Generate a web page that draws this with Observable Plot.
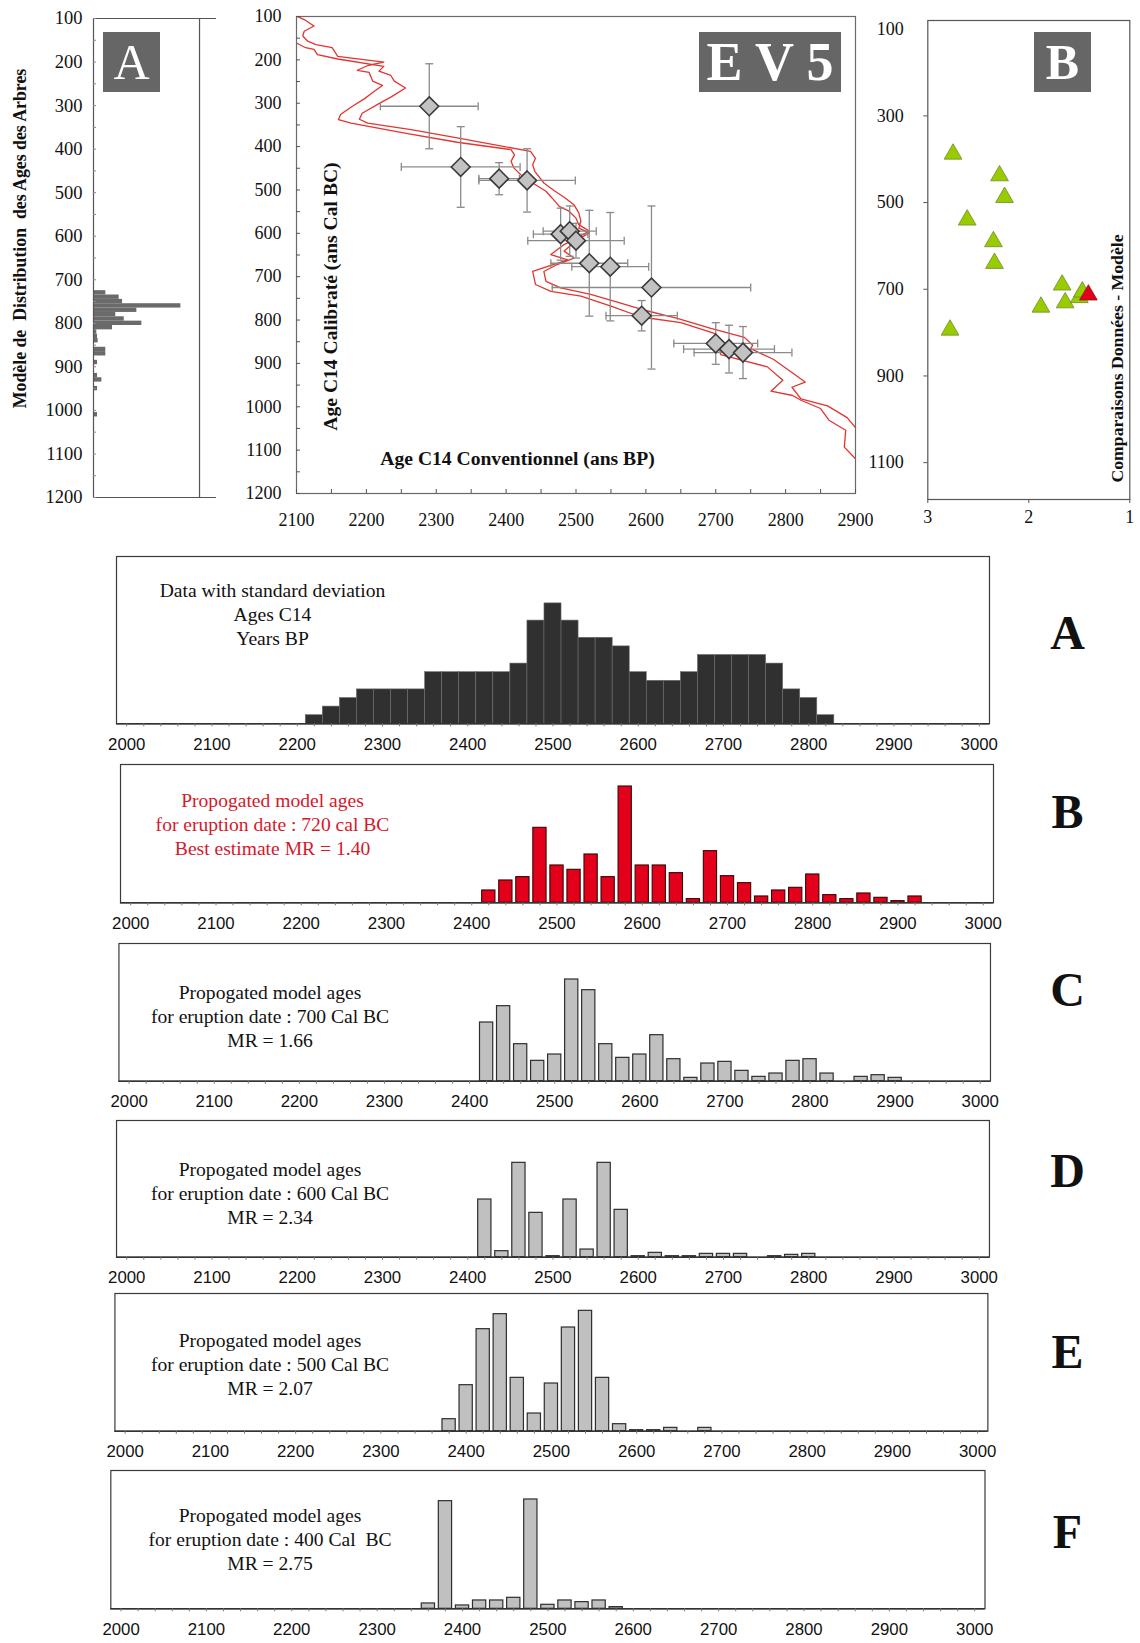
<!DOCTYPE html>
<html><head><meta charset="utf-8">
<script src="https://cdn.jsdelivr.net/npm/d3@7"></script>
<script src="https://cdn.jsdelivr.net/npm/@observablehq/plot@0.6"></script>
<style>
body{margin:0;background:#fff;}
#root{position:relative;width:1140px;height:1643px;overflow:hidden;font-family:"Liberation Serif",serif;background:#fff;}
.tag{position:absolute;background:#666;color:#fff;font-family:"Liberation Serif",serif;display:flex;align-items:center;justify-content:center;line-height:1;}
</style></head><body><div id="root"></div>
<script>
// ---------- DATA ----------
// Panel A (top-left): tree-age model distribution (cal BC bin start, bar length)
const treeBinStart = [725,735,745,755,765,775,785,795,805,815,825,835,855,865,885,915,925,945,1005];
const treeBinCount = [11.6,24.2,27.4,82.4,40.9,21,29,45.6,17.9,3.1,3.8,4.4,11.6,11.6,3.8,3.8,7.9,3.8,3.8];

// EV5: calibration curve (upper and lower bounds), BP vs cal BC
const calLeftBP  = [2100,2111,2125,2111,2109,2116,2128,2151,2159,2225,2202,2187,2204,2209,2223,2211,2197,2180,2163,2160,2178,2259,2330,2407,2412,2407,2411,2421,2438,2457,2466,2476,2490,2500,2504,2519,2483,2464,2488,2438,2442,2464,2507,2550,2593,2650,2698,2705,2707,2774,2796,2779,2810,2822,2850,2862,2886,2884,2900];
const calLeftCal = [99,107,122,134,145,157,165,172,192,205,213,224,229,249,259,273,290,307,326,338,346,370,390,407,419,434,449,465,484,503,519,538,549,565,580,595,626,649,661,688,718,734,745,768,793,806,831,862,880,908,939,964,974,985,1004,1031,1054,1093,1120];
const calRightBP  = [2100,2113,2125,2130,2159,2225,2218,2235,2240,2256,2235,2218,2194,2190,2202,2264,2330,2435,2442,2438,2441,2454,2469,2483,2497,2504,2507,2504,2519,2502,2483,2497,2473,2454,2457,2478,2521,2564,2600,2645,2693,2741,2753,2750,2783,2828,2809,2822,2860,2888,2900];
const calRightCal = [161,172,176,188,198,215,226,236,249,265,286,301,323,337,346,361,380,411,427,442,457,484,502,517,534,553,572,588,599,615,641,657,672,688,711,726,741,761,778,796,819,840,858,866,891,943,955,982,998,1025,1048];

// EV5: dated samples (C14 BP, cal BC) with errors
const sampleBP     = [2290,2335,2390,2430,2478,2491,2500,2519,2549,2608,2594,2700,2719,2739];
const sampleCal    = [307,447,474,478,602,595,617,669,677,725,790,854,867,875];
const sampleErrBP  = [70,85,29,69,39,38,69,55,55,142,51,60,65,70];
const sampleErrCal = [98,93,37,73,60,58,40,122,125,188,35,48,55,60];

// Panel B (top-right): data-model comparison (MR, eruption date cal BC)
const compMR    = [2.75,2.29,2.24,2.61,2.35,2.34,2.78,1.88,1.67,1.64,1.50,1.47];
const compDate  = [388,438,488,540,590,640,794,741,690,731,719,706];
const bestMR    = [1.41];
const bestDate  = [713];

// Histograms (bin centre in years BP, height)
const histA_x = [2220,2240,2260,2280,2300,2320,2340,2360,2380,2400,2420,2440,2460,2480,2500,2520,2540,2560,2580,2600,2620,2640,2660,2680,2700,2720,2740,2760,2780,2800,2820];
const histA_v = [1,2,3,4,4,4,4,6,6,6,6,6,7,12,14,12,10,10,9,6,5,5,6,8,8,8,8,7,4,3,1];
const histB_x = [2420,2440,2460,2480,2500,2520,2540,2560,2580,2600,2620,2640,2660,2680,2700,2720,2740,2760,2780,2800,2820,2840,2860,2880,2900,2920];
const histB_v = [37,67,77,225,112,99,145,77,349,112,112,89,11,155,80,59,19,37,45,85,23,11,28,15,5,19];
const histC_x = [2420,2440,2460,2480,2500,2520,2540,2560,2580,2600,2620,2640,2660,2680,2700,2720,2740,2760,2780,2800,2820,2860,2880,2900];
const histC_v = [176,225,111,61,80,305,273,111,70,80,138,66,10,53,58,31,13,23,61,66,23,13,18,10];
const histD_x = [2420,2440,2460,2480,2500,2520,2540,2560,2580,2600,2620,2640,2660,2680,2700,2720,2760,2780,2800];
const histD_v = [173,18,283,133,3,173,23,283,142,3,13,3,3,10,10,10,3,7,10];
const histE_x = [2380,2400,2420,2440,2460,2480,2500,2520,2540,2560,2580,2600,2620,2640,2680];
const histE_v = [36,138,306,351,160,53,143,311,361,160,21,3,3,10,10];
const histF_x = [2360,2380,2400,2420,2440,2460,2480,2500,2520,2540,2560,2580];
const histF_v = [16,323,10,25,25,33,328,12,25,20,25,5];

const topTicksCal = d3.range(100, 1201, 100);
const ev5TicksBP = d3.range(2100, 2901, 100);
const bTicksCal = [100,300,500,700,900,1100];
const bTicksMR = [3,2,1];
const histTicks = d3.range(2000, 3001, 100);

// ---------- LAYOUT ----------
const root = document.getElementById("root");
const SERIF = "Liberation Serif, Times New Roman, serif";
const SANS = "Liberation Sans, Arial, sans-serif";
const baseStyle = {background: "transparent", overflow: "visible", fontFamily: SERIF, color: "#111"};
const plain = d => String(d);
const noText = () => "";
function place(el, left, top) {
  el.style.position = "absolute"; el.style.left = left + "px"; el.style.top = top + "px";
  el.style.maxWidth = "none";
  root.append(el);
}
function tag(text, left, top, w, h, size, weight) {
  const d = document.createElement("div");
  d.className = "tag"; d.textContent = text;
  Object.assign(d.style, {left: left + "px", top: top + "px", width: w + "px", height: h + "px", fontSize: size + "px", fontWeight: weight});
  root.append(d);
}

// ---- Panel A (top-left) ----
const treeRows = treeBinStart.map((s, i) => ({start: s, count: treeBinCount[i]}));
const pA = Plot.plot({
  width: 230, height: 540, marginLeft: 93, marginRight: 14, marginTop: 18, marginBottom: 43,
  style: {...baseStyle, fontSize: "18px"},
  x: {domain: [0, 116], axis: null},
  y: {domain: [100, 1200], reverse: true},
  marks: [
    Plot.rect(treeRows, {y1: "start", y2: d => d.start + 10, x1: d => 0, x2: "count", fill: "#6a6a6a"}),
    Plot.ruleY([100, 1200], {stroke: "#555", strokeWidth: 1.2}),
    Plot.ruleX([0, 100], {stroke: "#555", strokeWidth: 1.2}),
    Plot.axisY({ticks: d3.range(100, 1201, 50), tickSize: 3, dx: 3, tickFormat: noText, label: null, stroke: "#888"}),
    Plot.axisY({ticks: topTicksCal, tickSize: 0, tickPadding: 11, fontSize: 18.5, tickFormat: plain, label: null}),
    Plot.text(["Modèle de  Distribution  des Ages des Arbres"], {frameAnchor: "left", textAnchor: "middle", lineAnchor: "middle", rotate: -90, dx: -73, dy: -19.5, fontWeight: "bold", fontSize: 17.8})
  ]
});
place(pA, 0, 0);
tag("A", 103, 32, 57, 60, 50, "normal");

// ---- EV5 ----
const calLeft = calLeftBP.map((b, i) => ({bp: b, cal: calLeftCal[i]}));
const calRight = calRightBP.map((b, i) => ({bp: b, cal: calRightCal[i]}));
const samples = sampleBP.map((b, i) => ({bp: b, cal: sampleCal[i], ebp: sampleErrBP[i], ecal: sampleErrCal[i]}));
const capV = {draw(ctx, size) { const r = Math.sqrt(size / Math.PI); ctx.moveTo(0, -r); ctx.lineTo(0, r); }};
const capH = {draw(ctx, size) { const r = Math.sqrt(size / Math.PI); ctx.moveTo(-r, 0); ctx.lineTo(r, 0); }};
const errStroke = "#8a8a8a";
const pE = Plot.plot({
  width: 640, height: 540, marginLeft: 66, marginRight: 15, marginTop: 16, marginBottom: 47,
  style: {...baseStyle, fontSize: "18px"},
  x: {domain: [2100, 2900]},
  y: {domain: [100, 1200], reverse: true},
  marks: [
    Plot.line(calLeft, {x: "bp", y: "cal", stroke: "#e3342f", strokeWidth: 1.3, clip: true}),
    Plot.line(calRight, {x: "bp", y: "cal", stroke: "#e3342f", strokeWidth: 1.3, clip: true}),
    Plot.ruleY(samples, {y: "cal", x1: d => d.bp - d.ebp, x2: d => d.bp + d.ebp, stroke: errStroke, strokeWidth: 1.3}),
    Plot.ruleX(samples, {x: "bp", y1: d => d.cal - d.ecal, y2: d => d.cal + d.ecal, stroke: errStroke, strokeWidth: 1.3}),
    Plot.dot(samples, {x: d => d.bp - d.ebp, y: "cal", symbol: capV, r: 4, fill: "none", stroke: errStroke, strokeWidth: 1.3}),
    Plot.dot(samples, {x: d => d.bp + d.ebp, y: "cal", symbol: capV, r: 4, fill: "none", stroke: errStroke, strokeWidth: 1.3}),
    Plot.dot(samples, {x: "bp", y: d => d.cal - d.ecal, symbol: capH, r: 4, fill: "none", stroke: errStroke, strokeWidth: 1.3}),
    Plot.dot(samples, {x: "bp", y: d => d.cal + d.ecal, symbol: capH, r: 4, fill: "none", stroke: errStroke, strokeWidth: 1.3}),
    Plot.dot(samples, {x: "bp", y: "cal", symbol: "diamond2", r: 8.5, fill: "#c2c2c2", stroke: "#3a3a3a", strokeWidth: 1.6}),
    Plot.frame({stroke: "#6a6a6a", strokeWidth: 1.2}),
    Plot.axisY({ticks: d3.range(100, 1201, 50), tickSize: 4, dx: 4, tickFormat: noText, label: null, stroke: "#555"}),
    Plot.axisX({ticks: d3.range(2100, 2901, 50), tickSize: 4, dy: -4, tickFormat: noText, label: null, stroke: "#555"}),
    Plot.axisY({ticks: topTicksCal, tickSize: 0, tickPadding: 15, fontSize: 18, tickFormat: plain, label: null}),
    Plot.axisX({ticks: ev5TicksBP, tickSize: 0, tickPadding: 20, fontSize: 18, tickFormat: plain, label: null}),
    Plot.text(["Age C14 Conventionnel (ans BP)"], {frameAnchor: "bottom", textAnchor: "middle", lineAnchor: "middle", dx: -58.5, dy: -35, fontWeight: "bold", fontSize: 19.6}),
    Plot.text(["Age C14 Calibraté (ans Cal BC)"], {frameAnchor: "left", textAnchor: "middle", lineAnchor: "middle", rotate: -90, dx: 34, dy: 41.5, fontWeight: "bold", fontSize: 19.6})
  ]
});
place(pE, 230, 0);
tag("E V 5", 699, 32, 142, 60, 54, "bold");

// ---- Panel B (top-right) ----
const comp = compMR.map((m, i) => ({mr: m, date: compDate[i]}));
const best = bestMR.map((m, i) => ({mr: m, date: bestDate[i]}));
const pB = Plot.plot({
  width: 270, height: 540, marginLeft: 57.3, marginRight: 10.7, marginTop: 20, marginBottom: 41,
  style: {...baseStyle, fontSize: "18px"},
  x: {domain: [3, 1]},
  y: {domain: [80, 1185], reverse: true},
  marks: [
    Plot.frame({stroke: "#555", strokeWidth: 1.2}),
    Plot.dot(comp, {x: "mr", y: "date", symbol: "triangle", r: 6.6, fill: "#99cc00", stroke: "#6d8c2c", strokeWidth: 0.8}),
    Plot.dot(best, {x: "mr", y: "date", symbol: "triangle", r: 6.6, fill: "#e2001a", stroke: "#8a1a1a", strokeWidth: 0.8}),
    Plot.axisY({ticks: [300, 500, 700, 900, 1100], tickSize: 4, tickFormat: noText, label: null, stroke: "#555"}),
    Plot.axisY({ticks: bTicksCal, tickSize: 0, tickPadding: 24, fontSize: 18, tickFormat: plain, label: null}),
    Plot.axisX({ticks: bTicksMR, tickSize: 4, tickPadding: 7, fontSize: 18, tickFormat: plain, label: null, stroke: "#555"}),
    Plot.text(["Comparaisons Données - Modèle"], {frameAnchor: "right", textAnchor: "middle", lineAnchor: "middle", rotate: -90, dx: -12.6, dy: 98.5, fontWeight: "bold", fontSize: 17.7})
  ]
});
place(pB, 870, 0);
tag("B", 1034, 32, 57, 60, 50, "bold");

// ---- Histograms ----
function hist(cfg) {
  const rows = cfg.x.map((c, i) => ({c, v: cfg.v[i]}));
  const mt = 2, mb = 42;
  const mid = (cfg.T + cfg.B) / 2;
  const marks = [
    Plot.rect(rows, {x1: d => d.c - 10, x2: d => d.c + 10, y1: d => 0, y2: "v",
      fill: cfg.fill, stroke: cfg.stroke, strokeWidth: cfg.sw, insetLeft: cfg.inset, insetRight: cfg.inset}),
    Plot.frame({stroke: "#3a3a3a", strokeWidth: 1.2}),
    Plot.ruleY([0], {stroke: "#333", strokeWidth: 1.6}),
    Plot.axisX({ticks: d3.range(2000, 3001, 20), tickSize: 3, tickFormat: noText, label: null, stroke: "#777"}),
    Plot.axisX({ticks: histTicks, tickSize: 0, tickPadding: 14, fontSize: 16.8, fontFamily: SANS, tickFormat: plain, label: null}),
    Plot.text([cfg.text], {frameAnchor: "left", textAnchor: "middle", lineAnchor: "middle", dx: cfg.tx - cfg.L, dy: cfg.ty - mid, lineHeight: 1.22, fontSize: 19.6, fill: cfg.textColor}),
    Plot.text([cfg.letter], {frameAnchor: "right", textAnchor: "middle", lineAnchor: "middle", dx: 1067 - cfg.R, dy: cfg.ly - mid, fontSize: 48, fontWeight: "bold"})
  ];
  const p = Plot.plot({
    width: 1140, height: (cfg.B - cfg.T) + mt + mb,
    marginLeft: cfg.L, marginRight: 1140 - cfg.R, marginTop: mt, marginBottom: mb,
    style: {...baseStyle, fontSize: "16px"},
    x: {domain: [1988, 3012]},
    y: {domain: [0, cfg.ymax], axis: null},
    marks
  });
  place(p, 0, cfg.T - mt);
}
const grey = {fill: "#c0c0c0", stroke: "#2e2e2e", sw: 1.2, inset: 1.9, textColor: "#111"};
hist({x: histA_x, v: histA_v, ymax: 19.45, L: 116, R: 989, T: 556, B: 723.3, fill: "#303030", stroke: "#6e6e6e", sw: 0.6, inset: 0,
  text: "Data with standard deviation\nAges C14\nYears BP", textColor: "#111", tx: 272, ty: 613, letter: "A", ly: 633});
hist({x: histB_x, v: histB_v, ymax: 415, L: 120, R: 993, T: 764, B: 902.3, fill: "#e2001a", stroke: "#3a0505", sw: 1.1, inset: 1.9,
  text: "Propogated model ages\nfor eruption date : 720 cal BC\nBest estimate MR = 1.40", textColor: "#d6182c", tx: 272, ty: 823, letter: "B", ly: 812});
hist({x: histC_x, v: histC_v, ymax: 413, L: 118.4, R: 990, T: 943.3, B: 1081, ...grey,
  text: "Propogated model ages\nfor eruption date : 700 Cal BC\nMR = 1.66", tx: 269.5, ty: 1015.5, letter: "C", ly: 990});
hist({x: histD_x, v: histD_v, ymax: 410, L: 116, R: 989, T: 1120, B: 1256.7, ...grey,
  text: "Propogated model ages\nfor eruption date : 600 Cal BC\nMR = 2.34", tx: 269.5, ty: 1192, letter: "D", ly: 1171});
hist({x: histE_x, v: histE_v, ymax: 413, L: 114.4, R: 987.4, T: 1293.3, B: 1431, ...grey,
  text: "Propogated model ages\nfor eruption date : 500 Cal BC\nMR = 2.07", tx: 269.5, ty: 1363, letter: "E", ly: 1352});
hist({x: histF_x, v: histF_v, ymax: 415, L: 110.3, R: 984.5, T: 1470, B: 1608.3, ...grey,
  text: "Propogated model ages\nfor eruption date : 400 Cal  BC\nMR = 2.75", tx: 269.5, ty: 1538, letter: "F", ly: 1532});
</script></body></html>
